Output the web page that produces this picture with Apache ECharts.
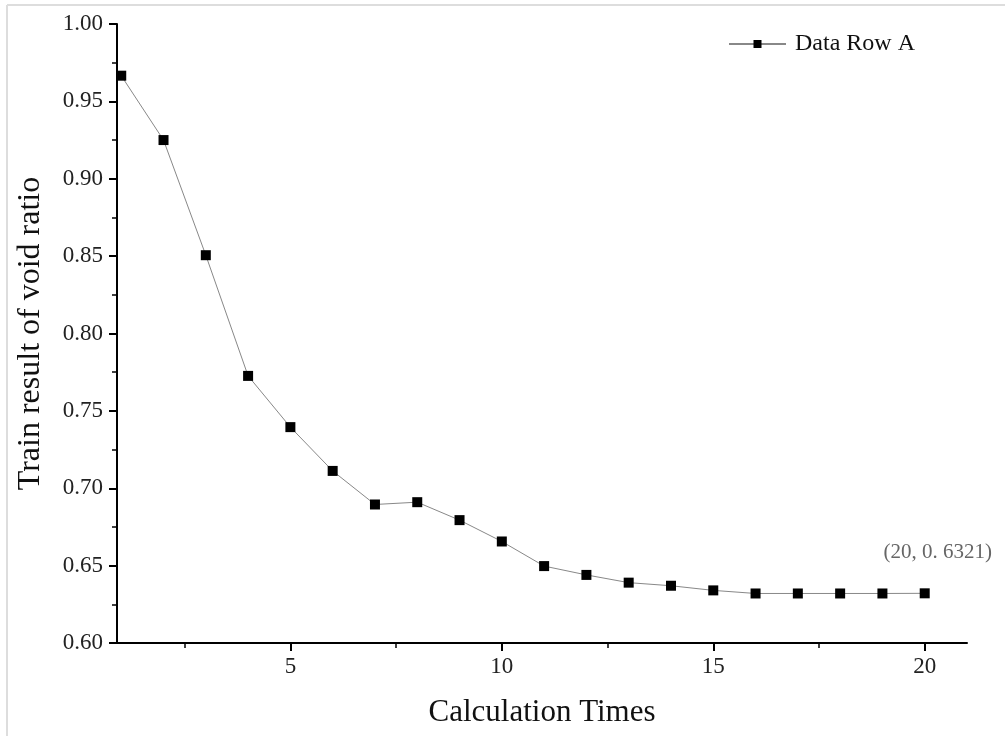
<!DOCTYPE html>
<html>
<head>
<meta charset="utf-8">
<script src="https://cdn.jsdelivr.net/npm/echarts@6/dist/echarts.min.js"></script>
<style>html,body{margin:0;padding:0;background:#fff}#c{width:1005px;height:736px}</style>
</head>
<body>
<div id="c"></div>
<script>
var seriesName = 'Data Row A';
var calcTimes = [1,2,3,4,5,6,7,8,9,10,11,12,13,14,15,16,17,18,19,20];
var voidRatio = [0.9666,0.925,0.8506,0.7726,0.7395,0.7112,0.6895,0.691,0.6794,0.6656,0.6497,0.644,0.639,0.637,0.634,0.632,0.632,0.632,0.632,0.6321];
var xMajorTicks = [5,10,15,20];
var xMinorTicks = [2.5,7.5,12.5,17.5];
var annotationText = '(20, 0. 6321)';
var xTitle = 'Calculation Times';
var yTitle = 'Train result of void ratio';

var serif = '"Liberation Serif", "Times New Roman", serif';
var chart = echarts.init(document.getElementById('c'), null, {renderer:'canvas'});

var data = calcTimes.map(function(x, i){
  var item = {value:[x, voidRatio[i]]};
  if (i === calcTimes.length - 1) {
    item.label = {show:true, formatter: annotationText, position:'top', distance:0,
      offset:[13,-25], color:'#666', fontFamily: serif, fontSize:21};
  }
  return item;
});

chart.setOption({
  animation:false,
  backgroundColor:'#fff',
  graphic:[
    {type:'line', shape:{x1:7,y1:5,x2:1005,y2:5}, style:{stroke:'#ddd', lineWidth:2}, silent:true},
    {type:'line', shape:{x1:7,y1:5,x2:7,y2:736}, style:{stroke:'#ddd', lineWidth:2}, silent:true}
  ],
  legend:{
    data:[seriesName],
    left:723, top:27,
    itemWidth:57, itemHeight:10,
    textStyle:{fontFamily:serif, fontSize:24, color:'#111', padding:[0,0,0,4]}
  },
  grid:{left:117, right:38, top:24, bottom:93, containLabel:false},
  xAxis:[{
    type:'value', min:0.9, max:21,
    name:xTitle, nameLocation:'middle', nameGap:54,
    nameTextStyle:{fontFamily:serif, fontSize:31, color:'#111'},
    axisLine:{show:true, onZero:false, lineStyle:{color:'#000', width:2}},
    axisTick:{show:true, inside:false, length:8, customValues:xMajorTicks, lineStyle:{color:'#000', width:2}},
    axisLabel:{customValues:xMajorTicks, margin:12, fontFamily:serif, fontSize:23, color:'#222'},
    splitLine:{show:false}
  },{
    type:'value', min:0.9, max:21, position:'bottom',
    axisLine:{show:false},
    axisTick:{show:true, inside:false, length:5, customValues:xMinorTicks, lineStyle:{color:'#000', width:1.5}},
    axisLabel:{show:false},
    splitLine:{show:false}
  }],
  yAxis:{
    type:'value', min:0.6, max:1.0, interval:0.05,
    name:yTitle, nameLocation:'middle', nameGap:70,
    nameTextStyle:{fontFamily:serif, fontSize:32, color:'#111'},
    axisLine:{show:true, onZero:false, lineStyle:{color:'#000', width:2}},
    axisTick:{show:true, inside:false, length:8, lineStyle:{color:'#000', width:2}},
    minorTick:{show:true, splitNumber:2, length:5, lineStyle:{color:'#000', width:1.5}},
    axisLabel:{margin:14, fontFamily:serif, fontSize:23, color:'#222',
      formatter:function(v){return v.toFixed(2);}},
    splitLine:{show:false}
  },
  series:[{
    name:seriesName,
    type:'line',
    xAxisIndex:0,
    data:data,
    symbol:'rect',
    symbolSize:10,
    itemStyle:{color:'#000'},
    lineStyle:{color:'#888', width:1},
    label:{show:false},
    z:3
  }]
});
</script>
</body>
</html>
